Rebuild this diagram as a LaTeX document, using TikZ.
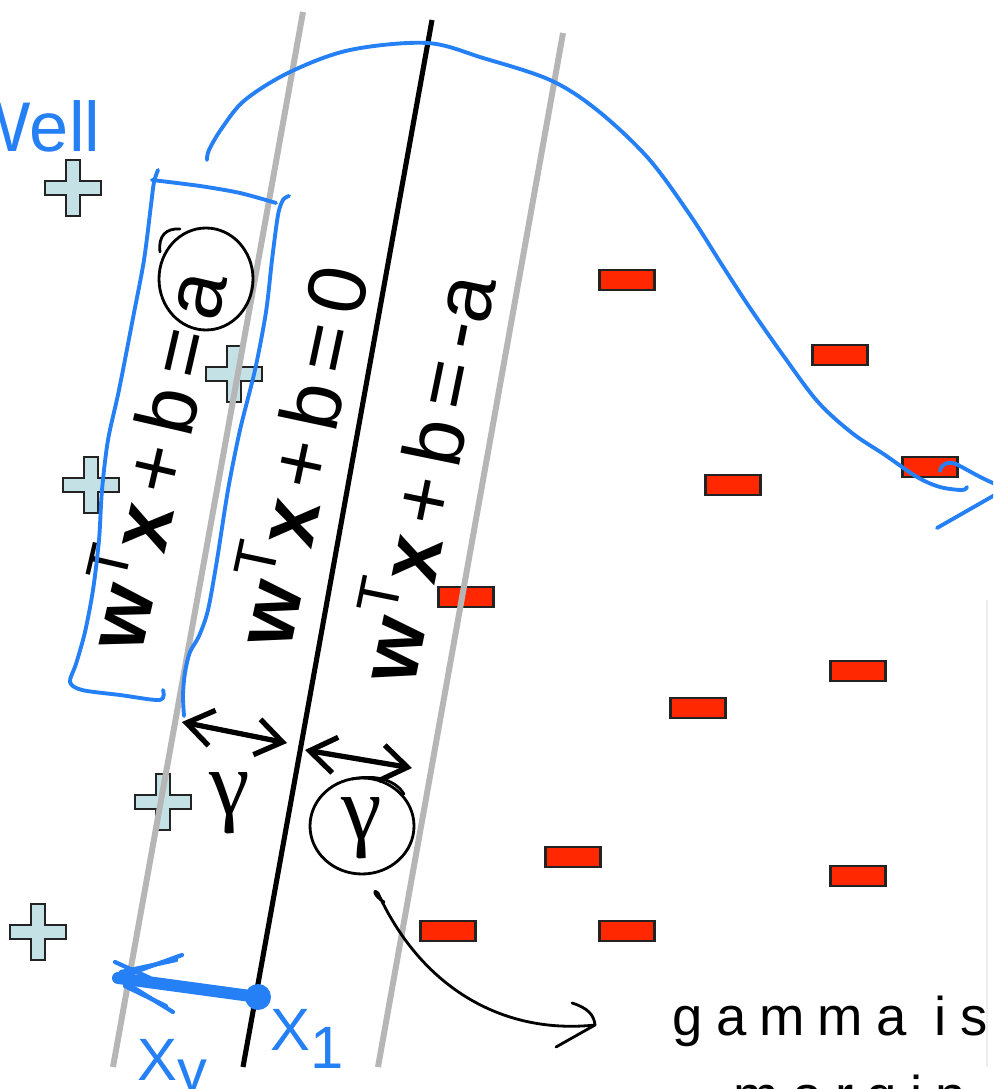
\documentclass[tikz,border=0pt]{standalone}
\usepackage{fontspec}
\setmainfont{Liberation Sans}
\newfontfamily\handfont[LetterSpace=24]{Liberation Sans}
\newfontfamily\greekfont{Liberation Serif}
\usetikzlibrary{arrows.meta}

\definecolor{marginline}{RGB}{182,182,182}
\definecolor{penblue}{RGB}{38,128,245}
\definecolor{minusred}{RGB}{255,40,0}
\definecolor{plusfill}{RGB}{196,226,230}
\definecolor{markedge}{RGB}{35,35,35}

\newcommand{\gapk}{\kern0.15em}

\tikzset{
  minusmark/.style={rectangle, draw=markedge, fill=minusred, line width=0.6pt,
    minimum width=0.55cm, minimum height=0.2cm, inner sep=0pt},
  plusmark/.pic={
    \path[draw=markedge, fill=plusfill, line width=0.6pt]
      (-28,-7) -- (-7,-7) -- (-7,-28) -- (7,-28) -- (7,-7) -- (28,-7) --
      (28,7) -- (7,7) -- (7,28) -- (-7,28) -- (-7,7) -- (-28,7) -- cycle;
  },
  grayboundary/.style={draw=marginline, line width=1.7pt},
  boundary/.style={draw=black, line width=1.45pt},
  eqlabel/.style={font=\fontsize{23.5}{28}\selectfont, inner sep=0pt, anchor=base west},
  greek/.style={font=\greekfont\fontsize{26}{30}\selectfont, inner sep=0pt},
  pen/.style={draw=penblue, line width=1.1pt, line cap=round, line join=round},
  ink/.style={draw=black, line width=0.8pt, line cap=round, line join=round},
  gaparrow/.style={draw=black, line width=1.5pt,
    {Straight Barb[length=2.6mm, width=3.6mm]}-{Straight Barb[length=2.6mm, width=3.6mm]}},
  bluenote/.style={text=penblue, inner sep=0pt},
}

\begin{document}
\begin{tikzpicture}[x=0.01cm, y=-0.01cm]
\clip (0,0) rectangle (993,1089);
\fill[white] (0,0) rectangle (993,1089);

% faint edge of the slide
\draw[black!7, line width=0.5pt] (987,600) -- (987,1067);

% positive samples
\foreach \px/\py in {73/188, 234/374, 91/485, 163/802, 38/932}
  \pic at (\px,\py) {plusmark};

% negative samples
\foreach \px/\py [count=\i] in {627/280, 840/355, 733/485, 466/597, 930/467,
    858/671, 698/708, 573/857, 858/876, 448/931, 627/931}
  \node[minusmark] (neg\i) at (\px,\py) {};

% margin boundaries and decision boundary
\coordinate (lefttop) at (303,12);   \coordinate (leftbot) at (113,1067);
\coordinate (midtop) at (432,20);    \coordinate (midbot) at (243,1067);
\coordinate (righttop) at (563,33);  \coordinate (rightbot) at (378,1067);
\path[grayboundary] (lefttop) -- (leftbot);
\path[grayboundary] (righttop) -- (rightbot);
\path[boundary] (midtop) -- (midbot);

% equations along the lines
\node[eqlabel, rotate=77] (eqa) at (141,655) {\textbf{w}\textsuperscript{T}\textbf{x}\gapk+\gapk b\gapk=\gapk a};
\node[eqlabel, rotate=78] (eqzero) at (290,651) {\textbf{w}\textsuperscript{T}\textbf{x}\gapk+\gapk b\gapk=\gapk 0};
\node[eqlabel, rotate=78.5] (eqnega) at (414,687) {\textbf{w}\textsuperscript{T}\textbf{x}\gapk+\gapk b\gapk=\gapk -a};

% circled a
\draw[ink] (206,279) ellipse [x radius=47, y radius=51];
\draw[ink] (160,252) .. controls (158,236) and (166,228) .. (180,229);

% margin widths
\coordinate (g1l) at (182,722); \coordinate (g1r) at (287,743);
\coordinate (g2l) at (305,750); \coordinate (g2r) at (412,768);
\path[gaparrow] (g1l) -- (g1r);
\path[gaparrow] (g2l) -- (g2r);
\node[greek] (gam1) at (230,803) {γ};
\node[greek] (gam2) at (362,828) {γ};
\draw[ink] (362,826) ellipse [x radius=52, y radius=48];
\draw[ink] (352,779) .. controls (378,774) and (396,781) .. (404,794);

% note pointing from the circled gamma
\node[font=\handfont\fontsize{15.5}{18}\selectfont, anchor=base west, inner sep=0pt] (note) at (672,1035) {gamma is};
\node[font=\handfont\fontsize{15.5}{18}\selectfont, anchor=base west, inner sep=0pt] (note2) at (733,1114) {margin};
\coordinate (arrstart) at (378,893);
\coordinate (arrtip) at (595,1025);
\draw[ink] (384,902) .. controls (374,896) and (372,888) .. (arrstart)
  .. controls (420,985) and (500,1035) .. (arrtip);
\draw[ink] (572,1003) .. controls (588,1008) and (594,1015) .. (arrtip) -- (556,1047);

% blue bracket around the positive margin equation
\draw[pen] plot[smooth, tension=0.5] coordinates {(158,170) (154,182) (151,205) (144,260)
  (133,318) (119,390) (108,440) (102,490) (99,540) (93,590) (85,632) (76,664) (70,682)
  (82,690) (120,695) (160,700) (163,690)};
\draw[pen] plot[smooth, tension=0.5] coordinates {(152,180) (200,186) (240,193) (276,203)};
\draw[pen] plot[smooth, tension=0.5] coordinates {(289,196) (283,200) (278,215) (272,260)
  (266,312) (255,370) (240,430) (228,490) (217,560) (208,610) (199,636) (190,652)
  (185,672) (183,695) (184,716)};

% long blue arrow
\coordinate (bluestart) at (207,160);
\coordinate (blueend) at (967,487);
\draw[pen] plot[smooth, tension=0.55] coordinates {(bluestart) (209,150) (222,128) (245,100)
  (290,72) (350,50) (427,43) (483,58) (550,80) (597,110) (648,158) (690,215) (722,265)
  (750,308) (785,358) (818,402) (852,433) (885,455) (917,477) (940,487) (962,490) (blueend)};
\draw[pen] (940,471) .. controls (941,464) and (948,461) .. (956,464)
  .. controls (968,470) and (980,478) .. (1000,486);
\draw[pen] (937,528) -- (1000,492);

% projection of x1 onto the margin
\coordinate (xone) at (258,997);
\coordinate (xgam) at (118,978);
\draw[penblue, line width=3.4pt, line cap=round] (xone) -- (xgam);
\fill[penblue] (xone) circle [radius=13];
\draw[pen, line width=1.2pt] (xgam) -- (182,955);
\draw[pen, line width=1.2pt] (121,972) -- (176,960);
\draw[pen, line width=1.2pt] (xgam) -- (173,1012);
\draw[pen, line width=1.2pt] (125,986) -- (166,1006);
\draw[pen, line width=1.2pt] (115,962) -- (150,978);

% handwritten point names and remark
\node[bluenote, font=\fontsize{17}{20}\selectfont, anchor=base west] (xgamlabel) at (137,1080) {X\raisebox{-0.35ex}{γ}};
\node[bluenote, font=\fontsize{17}{20}\selectfont, anchor=base west] (xonelabel) at (270,1050) {X\raisebox{-0.6ex}{1}};
\node[bluenote, font=\fontsize{20}{24}\selectfont, anchor=base east] (well) at (101,152) {Well};
\end{tikzpicture}
\end{document}
